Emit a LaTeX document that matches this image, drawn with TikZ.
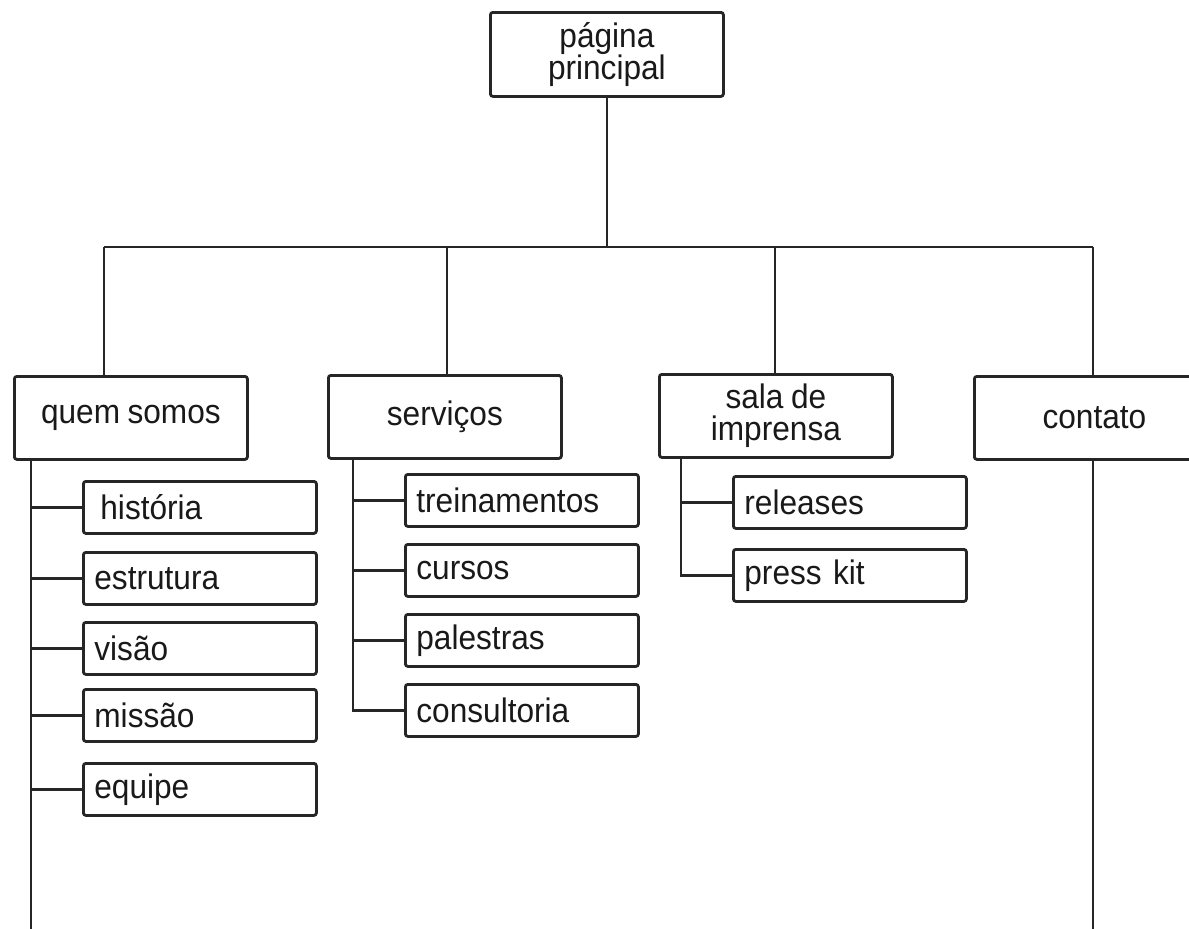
\documentclass[tikz,border=0pt]{standalone}
\usepackage{fontspec}
\setmainfont[FakeStretch=0.93,WordSpace=0.85]{Liberation Sans}
\begin{document}
\begin{tikzpicture}[x=1pt,y=-1pt,
  every node/.style={font=\fontsize{34}{32}\selectfont, text=black!90},
  box/.style={draw=black!85, line width=2.8pt, rounded corners=2.5pt, anchor=north west, align=center, inner sep=0pt},
  mainbox/.style={box, minimum width=233pt, minimum height=83pt},
  subbox/.style={box, minimum height=52pt, text width=211pt, inner xsep=11pt, align=left},
  conn/.style={draw=black!85, line width=2.8pt}
]
\clip (0,0) rectangle (1189,929);
\fill[white] (0,0) rectangle (1189,929);

\node[mainbox, minimum height=84pt] (top) at (489,11) {página\\principal};

\node[mainbox] (q) at (13,375) {quem somos};
\node[mainbox] (s) at (327,374) {serviços};
\node[mainbox] (sa) at (658,373) {sala de\\imprensa};
\node[mainbox, minimum width=240pt] (c) at (973,375) {contato};

\node[subbox] (h1) at (82,480) {\hspace*{6pt}história};
\node[subbox] (h2) at (82,551) {estrutura};
\node[subbox] (h3) at (82,621) {visão};
\node[subbox] (h4) at (82,688) {missão};
\node[subbox] (h5) at (82,762) {equipe};

\node[subbox] (s1) at (404,473) {treinamentos};
\node[subbox] (s2) at (404,543) {cursos};
\node[subbox] (s3) at (404,613) {palestras};
\node[subbox] (s4) at (404,683) {consultoria};

\node[subbox] (r1) at (732,475) {releases};
\node[subbox] (r2) at (732,548) {press kit};

\coordinate (d1) at (104,247);
\coordinate (d2) at (447,247);
\coordinate (d3) at (775,247);
\coordinate (d4) at (1093,247);
\coordinate (qv) at (31,940);
\coordinate (sv) at (353,0);
\coordinate (rv) at (681,0);

% main bus
\draw[conn] (top.south) -- (top.south |- d1);
\draw[conn] (d1) -- (d4);
\draw[conn] (d1) -- (d1 |- q.north);
\draw[conn] (d2) -- (d2 |- s.north);
\draw[conn] (d3) -- (d3 |- sa.north);
\draw[conn] (d4) -- (d4 |- c.north);

% quem somos
\draw[conn] (q.south -| qv) -- (qv);
\foreach \n in {h1,h2,h3,h4,h5} \draw[conn] (\n.west -| qv) -- (\n.west);

% servicos
\draw[conn] (s.south -| sv) |- (s4.west);
\foreach \n in {s1,s2,s3} \draw[conn] (\n.west -| sv) -- (\n.west);

% sala de imprensa
\draw[conn] (sa.south -| rv) |- (r2.west);
\draw[conn] (r1.west -| rv) -- (r1.west);

% contato
\draw[conn] (c.south -| d4) -- (d4 |- qv);
\end{tikzpicture}
\end{document}
